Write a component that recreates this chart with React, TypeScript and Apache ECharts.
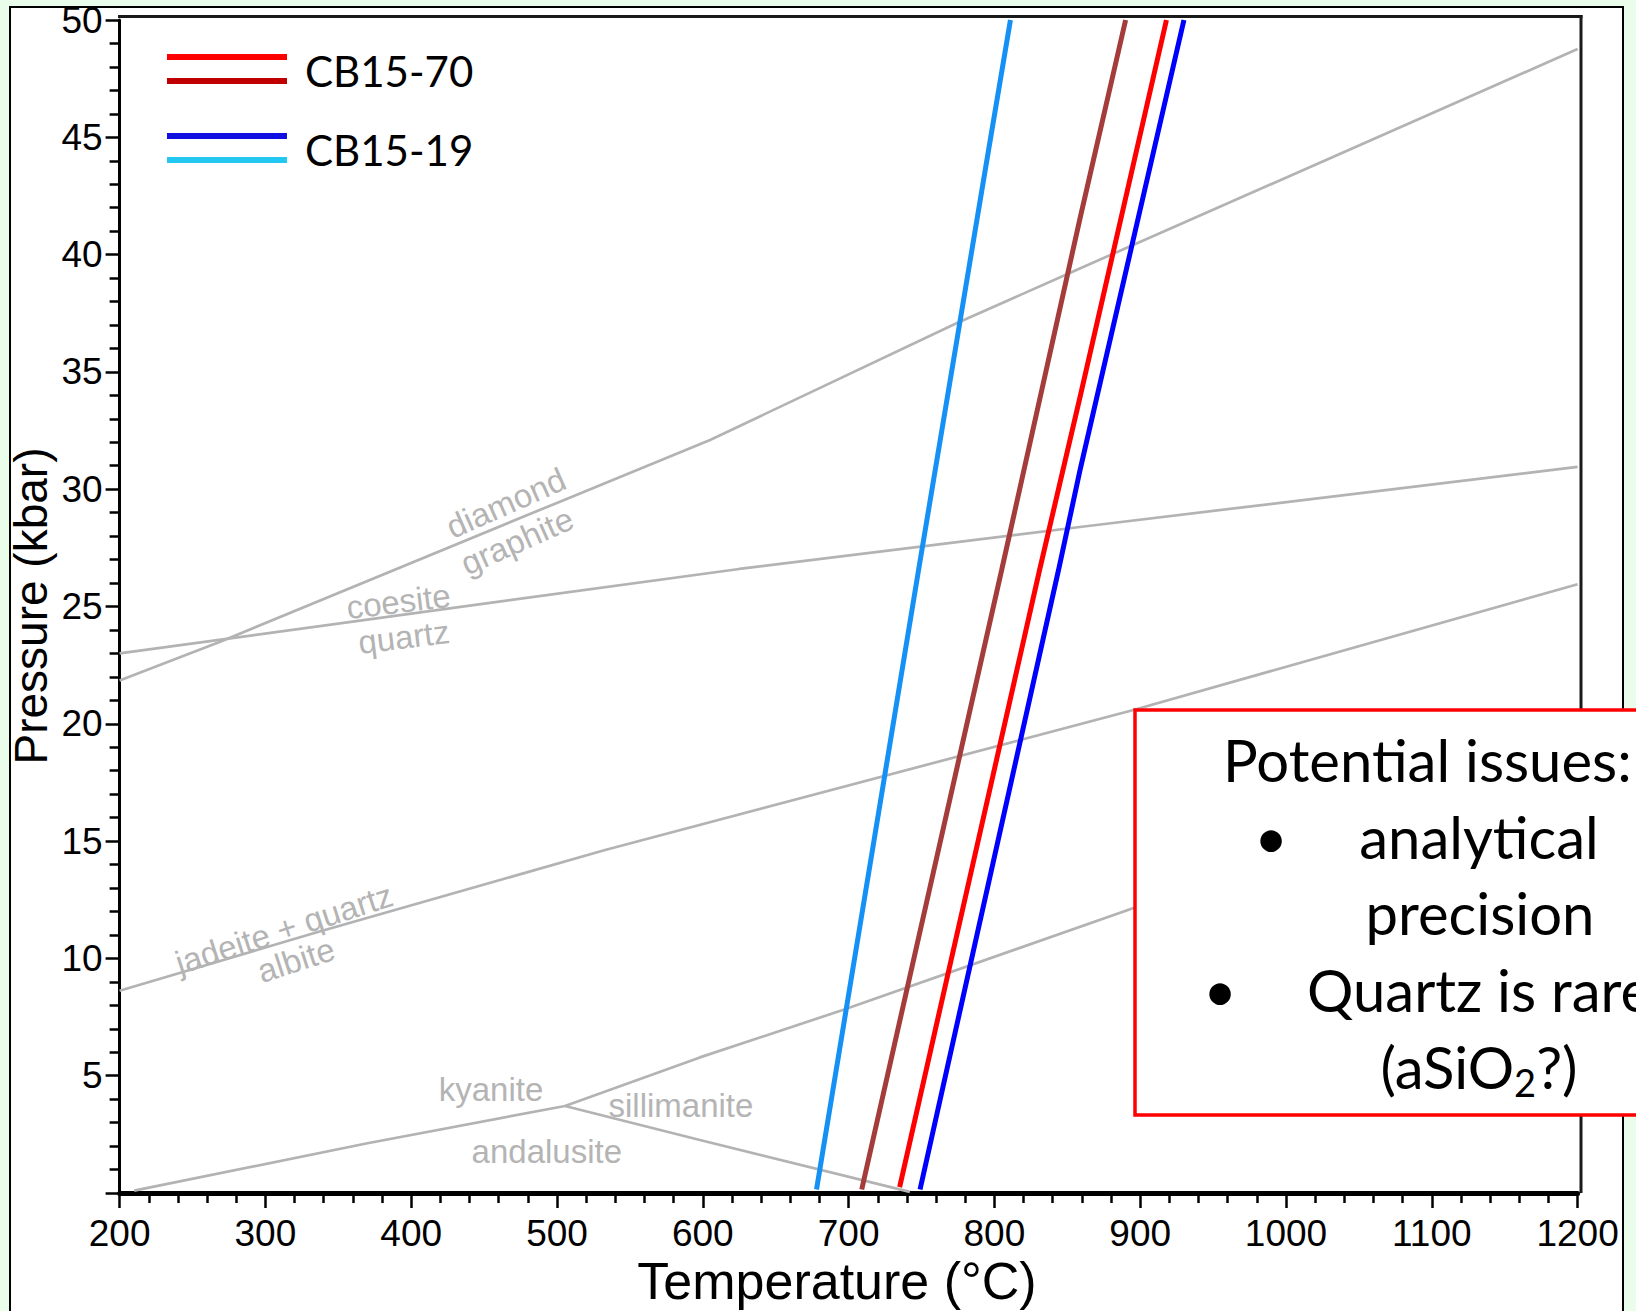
import React, { useEffect, useRef } from "react";
import * as echarts from "echarts";

// ---- axis ranges / ticks ----
const T_RANGE = [200, 1200];
const P_RANGE = [0, 50];
const T_STEP = 100;
const P_STEP = 5;

// ---- phase boundaries (T °C, P kbar) ----
const diamondGraphite = [[200, 21.85], [269, 23.5], [502, 29.47], [605, 32.1], [774, 37.07], [859, 39.42], [1200, 48.76]];
const coesiteQuartz = [[200, 23.0], [625, 26.6], [860, 28.4], [1200, 30.95]];
const jadeiteAlbite = [[200, 8.62], [333, 11.07], [533, 14.62], [896, 20.6], [1200, 25.95]];
const kyaniteAndalusite = [[210, 0.1], [370, 2.12], [505.5, 3.71]];
const kyaniteSillimanite = [[505.5, 3.71], [598, 5.78], [696, 7.8], [896, 12.16], [1200, 18.6]];
const andalusiteSillimanite = [[505.5, 3.71], [598, 2.26], [742, 0.05]];

// ---- thermometer isopleths ----
const cb1519Light = [[678, 0.15], [748, 26.56], [796, 44.46], [811, 50]];
const cb1570Dark = [[709, 0.15], [805, 26.56], [859, 41.62], [890, 50]];
const cb1570Red = [[735, 0.25], [831, 26.56], [859, 34.0], [918, 50]];
const cb1519Blue = [[749, 0.15], [844, 26.56], [859, 30.89], [930, 50]];

// ---- phase labels (anchored in data coords) ----
const phaseLabels = [
  { text: "diamond", t: 465, p: 29.41, rot: 24 },
  { text: "graphite", t: 472.6, p: 27.79, rot: 24 },
  { text: "coesite", t: 391.3, p: 25.21, rot: 7 },
  { text: "quartz", t: 395, p: 23.7, rot: 7 },
  { text: "jadeite + quartz", t: 312.8, p: 11.26, rot: 18 },
  { text: "albite", t: 321, p: 9.93, rot: 18 },
  { text: "kyanite", t: 454.7, p: 4.43, rot: 0 },
  { text: "sillimanite", t: 585, p: 3.71, rot: 0 },
  { text: "andalusite", t: 493, p: 1.75, rot: 0 },
];

const legendItems = [
  { label: "CB15-70", colors: ["#ff0000", "#c00000"] },
  { label: "CB15-19", colors: ["#1010e0", "#22c8f0"] },
];

export default function App() {
  const ref = useRef<HTMLDivElement>(null);

  useEffect(() => {
    const chart = echarts.init(ref.current!, null, { renderer: "svg" });
    const axisFont = "'Liberation Sans', Arial, sans-serif";
    const boxFont = "Lato, 'Open Sans', sans-serif";
    const grey = "#b3b3b3";

    const line = (name: string, data: number[][], color: string, width: number, z: number) => ({
      type: "line",
      name,
      data,
      showSymbol: false,
      symbol: "none",
      silent: true,
      clip: true,
      z,
      lineStyle: { color, width, cap: "butt" },
    });

    chart.setOption({
      animation: false,
      backgroundColor: "transparent",
      grid: { left: 119.6, right: 1636 - 1577.6, top: 20, bottom: 1311 - 1193, show: false },
      xAxis: {
        type: "value",
        min: T_RANGE[0],
        max: T_RANGE[1],
        interval: T_STEP,
        axisLine: { show: true, onZero: false, lineStyle: { color: "#000", width: 5 } },
        axisTick: { show: true, inside: false, length: 15, lineStyle: { color: "#000", width: 2.5 } },
        minorTick: { show: true, splitNumber: 5, length: 10, lineStyle: { color: "#000", width: 2.5 } },
        splitLine: { show: false },
        minorSplitLine: { show: false },
        axisLabel: {
          show: true, fontSize: 37, lineHeight: 37, color: "#000", fontFamily: axisFont, margin: 22,
          showMinLabel: true, showMaxLabel: true, hideOverlap: false,
          formatter: (v: number) => String(v),
        },
      },
      yAxis: {
        type: "value",
        min: P_RANGE[0],
        max: P_RANGE[1],
        interval: P_STEP,
        axisLine: { show: true, onZero: false, lineStyle: { color: "#000", width: 3 } },
        axisTick: { show: true, inside: false, length: 14, lineStyle: { color: "#000", width: 2.5 } },
        minorTick: { show: true, splitNumber: 5, length: 10, lineStyle: { color: "#000", width: 2.5 } },
        splitLine: { show: false },
        minorSplitLine: { show: false },
        axisLabel: {
          show: true, fontSize: 37, color: "#000", fontFamily: axisFont, margin: 17,
          formatter: (v: number) => (v === 0 ? "" : String(v)),
        },
      },
      series: [
        line("diamond-graphite", diamondGraphite, grey, 2.7, 1),
        line("coesite-quartz", coesiteQuartz, grey, 2.7, 1),
        line("jadeite-albite", jadeiteAlbite, grey, 2.7, 1),
        line("kyanite-andalusite", kyaniteAndalusite, grey, 2.7, 1),
        line("kyanite-sillimanite", kyaniteSillimanite, grey, 2.7, 1),
        line("andalusite-sillimanite", andalusiteSillimanite, grey, 2.7, 1),
        line("CB15-19 light", cb1519Light, "#1591f5", 5, 3),
        line("CB15-70 dark", cb1570Dark, "#a53c3c", 5, 3),
        line("CB15-70", cb1570Red, "#ff0000", 5, 3),
        line("CB15-19", cb1519Blue, "#0000ff", 5, 3),
      ],
    });

    const px = (t: number, p: number) => chart.convertToPixel({ gridIndex: 0 } as any, [t, p]) as number[];

    const txt = (text: string, x: number, y: number, size: number, family: string, fill: string, align: string, rot = 0, z = 10, lh?: number) => ({
      type: "text",
      x,
      y,
      rotation: (rot * Math.PI) / 180,
      z,
      silent: true,
      style: {
        text, fill, fontSize: size, fontFamily: family,
        lineHeight: lh,
        align, textAlign: align, verticalAlign: "middle", textVerticalAlign: "middle",
      },
    });

    const graphics: any[] = [];
    // top/right frame
    graphics.push({ type: "line", z: 5, silent: true, shape: { x1: 118, y1: 16.5, x2: 1582.5, y2: 16.5 }, style: { stroke: "#1a1a1a", lineWidth: 3 } });
    graphics.push({ type: "line", z: 5, silent: true, shape: { x1: 1581, y1: 15, x2: 1581, y2: 1193 }, style: { stroke: "#1a1a1a", lineWidth: 3 } });

    // phase labels
    phaseLabels.forEach((l) => {
      const [x, y] = px(l.t, l.p);
      graphics.push(txt(l.text, x, y, 33, axisFont, "#b4b4b4", "center", l.rot, 4));
    });

    // legend
    legendItems.forEach((it, i) => {
      const y0 = 57 + i * 79;
      it.colors.forEach((c, j) => {
        graphics.push({ type: "line", z: 10, silent: true, shape: { x1: 167, y1: y0 + j * 24, x2: 287, y2: y0 + j * 24 }, style: { stroke: c, lineWidth: 6 } });
      });
      graphics.push(txt(it.label, 305, y0 + 14, 42, boxFont, "#000", "left", 0, 10));
    });

    // axis titles
    graphics.push(txt("Temperature (°C)", 837, 1281, 52, axisFont, "#000", "center", 0, 10, 44));
    graphics.push(txt("Pressure (kbar)", 31, 606, 46, axisFont, "#000", "center", 90, 10, 40));

    // text box
    graphics.push({ type: "rect", z: 100, silent: true, shape: { x: 1135, y: 710, width: 620, height: 405 }, style: { fill: "#fff", stroke: "#ff0000", lineWidth: 3.5 } });
    graphics.push(txt("Potential issues:", 1223, 759, 58, boxFont, "#000", "left", 0, 101));
    graphics.push(txt("•", 1271, 836, 58, boxFont, "#000", "center", 0, 101));
    graphics.push(txt("analytical", 1479, 836, 58, boxFont, "#000", "center", 0, 101));
    graphics.push(txt("precision", 1480, 912, 58, boxFont, "#000", "center", 0, 101));
    graphics.push(txt("•", 1220, 989, 58, boxFont, "#000", "center", 0, 101));
    graphics.push(txt("Quartz is rare", 1307, 989, 58, boxFont, "#000", "left", 0, 101));
    graphics.push({
      type: "text", x: 1479, y: 1066, z: 101, silent: true,
      style: {
        text: "{m|(aSiO}{s|2}{m|?)}",
        align: "center", textAlign: "center", verticalAlign: "middle", textVerticalAlign: "middle",
        fill: "#000",
        rich: {
          m: { fontSize: 58, fontFamily: boxFont, lineHeight: 70, verticalAlign: "middle", fill: "#000", color: "#000" },
          s: { fontSize: 38, fontFamily: boxFont, lineHeight: 26, verticalAlign: "bottom", fill: "#000", color: "#000" },
        },
      },
    });

    chart.setOption({ graphic: { elements: graphics } });

    return () => chart.dispose();
  }, []);

  return (
    <div style={{ position: "fixed", left: 0, top: 0, width: 1636, height: 1311, background: "#eafdea", overflow: "hidden" }}>
      <div style={{ position: "absolute", left: 9, top: 6, width: 1615, height: 1400, background: "#fff", border: "2px solid #000", boxSizing: "border-box" }} />
      <div ref={ref} style={{ position: "absolute", left: 0, top: 0, width: 1636, height: 1311 }} />
    </div>
  );
}
